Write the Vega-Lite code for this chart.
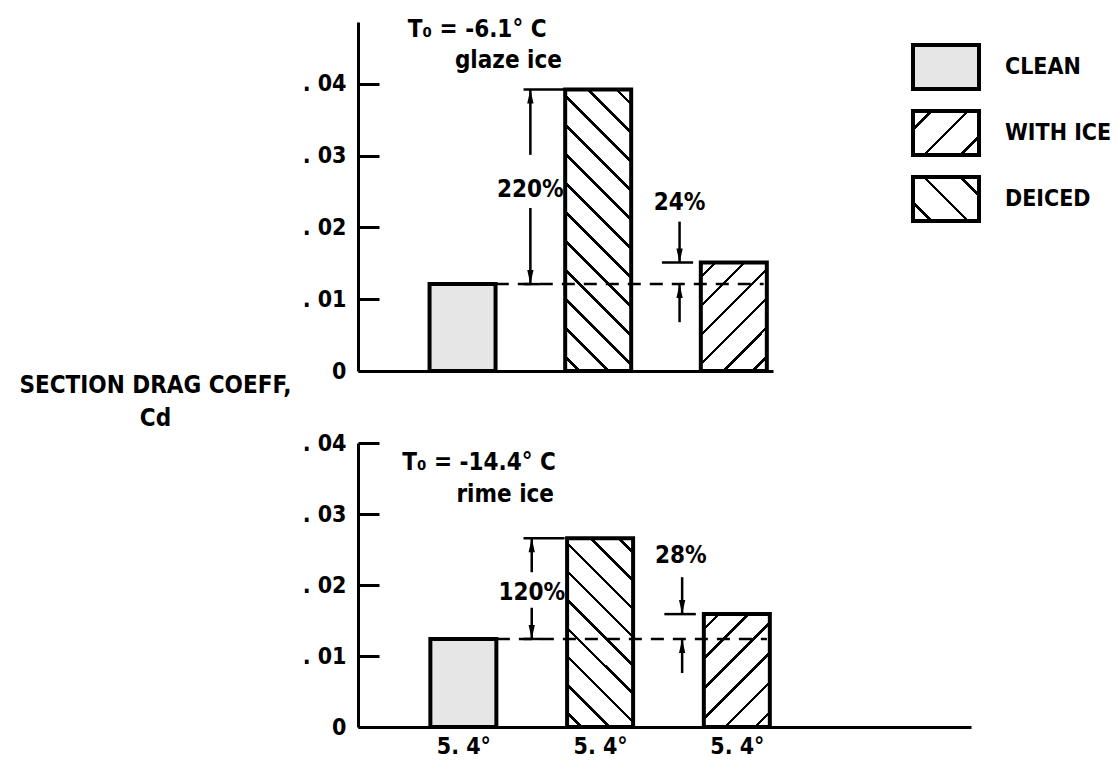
{
  "$schema": "https://vega.github.io/schema/vega-lite/v6.json",
  "padding": {"left": 18, "top": 18, "right": 5, "bottom": 2},
  "background": "white",
  "config": {
    "view": {"stroke": null},
    "font": "DejaVu Sans Condensed, DejaVu Sans, sans-serif",
    "axis": {"domainColor": "black", "domainWidth": 3, "tickColor": "black", "tickWidth": 3, "labelColor": "black", "labelFont": "DejaVu Sans Condensed, DejaVu Sans, sans-serif", "labelFontWeight": "bold", "grid": false, "titleColor": "black"},
    "text": {"font": "DejaVu Sans Condensed, DejaVu Sans, sans-serif", "fontWeight": "bold", "color": "black"}
  },
  "datasets": {
    "bars": [
      {"panel": "top", "cond": "CLEAN", "pos": 1, "cd": 0.0121},
      {"panel": "top", "cond": "WITH ICE", "pos": 2, "cd": 0.0392},
      {"panel": "top", "cond": "DEICED", "pos": 3, "cd": 0.0151},
      {"panel": "bottom", "cond": "CLEAN", "pos": 1, "cd": 0.0124},
      {"panel": "bottom", "cond": "WITH ICE", "pos": 2, "cd": 0.0266},
      {"panel": "bottom", "cond": "DEICED", "pos": 3, "cd": 0.0159}
    ],
    "dashes": [
      {"panel": "top", "pos": 1.245, "cd": 0.0121, "pos2": 3.22, "cd2": 0.0121},
      {"panel": "bottom", "pos": 1.245, "cd": 0.0124, "pos2": 3.22, "cd2": 0.0124}
    ],
    "lines": [
      {"panel": "top", "pos": 1.5, "cd": 0.0392, "pos2": 1.5, "cd2": 0.0301},
      {"panel": "top", "pos": 1.5, "cd": 0.0227, "pos2": 1.5, "cd2": 0.0121},
      {"panel": "top", "pos": 1.45, "cd": 0.0392, "pos2": 1.75, "cd2": 0.0392},
      {"panel": "top", "pos": 1.45, "cd": 0.0121, "pos2": 1.57, "cd2": 0.0121},
      {"panel": "top", "pos": 2.6, "cd": 0.0208, "pos2": 2.6, "cd2": 0.0151},
      {"panel": "top", "pos": 2.47, "cd": 0.0151, "pos2": 2.7, "cd2": 0.0151},
      {"panel": "top", "pos": 2.6, "cd": 0.0068, "pos2": 2.6, "cd2": 0.0121},
      {"panel": "bottom", "pos": 1.5, "cd": 0.0266, "pos2": 1.5, "cd2": 0.0218},
      {"panel": "bottom", "pos": 1.5, "cd": 0.0168, "pos2": 1.5, "cd2": 0.0124},
      {"panel": "bottom", "pos": 1.44, "cd": 0.0266, "pos2": 1.74, "cd2": 0.0266},
      {"panel": "bottom", "pos": 1.44, "cd": 0.0124, "pos2": 1.57, "cd2": 0.0124},
      {"panel": "bottom", "pos": 2.6, "cd": 0.0211, "pos2": 2.6, "cd2": 0.0159},
      {"panel": "bottom", "pos": 2.47, "cd": 0.0159, "pos2": 2.7, "cd2": 0.0159},
      {"panel": "bottom", "pos": 2.6, "cd": 0.0076, "pos2": 2.6, "cd2": 0.0124}
    ],
    "heads": [
      {"panel": "top", "pos": 1.5, "cd": 0.0392, "dir": "up"},
      {"panel": "top", "pos": 1.5, "cd": 0.0121, "dir": "down"},
      {"panel": "top", "pos": 2.6, "cd": 0.0151, "dir": "down"},
      {"panel": "top", "pos": 2.6, "cd": 0.0121, "dir": "up"},
      {"panel": "bottom", "pos": 1.5, "cd": 0.0266, "dir": "up"},
      {"panel": "bottom", "pos": 1.5, "cd": 0.0124, "dir": "down"},
      {"panel": "bottom", "pos": 2.6, "cd": 0.0159, "dir": "down"},
      {"panel": "bottom", "pos": 2.6, "cd": 0.0124, "dir": "up"}
    ],
    "notes": [
      {"panel": "top", "pos": 1.108, "cd": 0.0465, "text": "T₀ = -6.1° C"},
      {"panel": "top", "pos": 1.338, "cd": 0.0422, "text": "glaze ice"},
      {"panel": "top", "pos": 1.5, "cd": 0.0243, "text": "220%"},
      {"panel": "top", "pos": 2.6, "cd": 0.0224, "text": "24%"},
      {"panel": "bottom", "pos": 1.115, "cd": 0.0362, "text": "T₀ = -14.4° C"},
      {"panel": "bottom", "pos": 1.306, "cd": 0.0317, "text": "rime ice"},
      {"panel": "bottom", "pos": 1.5, "cd": 0.0179, "text": "120%"},
      {"panel": "bottom", "pos": 2.59, "cd": 0.0231, "text": "28%"}
    ]
  },
  "bounds": "flush",
  "spacing": 72,
  "resolve": {"scale": {"x": "independent", "y": "independent"}},
  "vconcat": [
    {
      "width": 415,
      "height": 349,
      "encoding": {
        "x": {"field": "pos", "type": "quantitative", "scale": {"domain": [0.266, 3.252], "nice": false, "zero": false}, "axis": {"title": null, "labels": false, "ticks": false, "domain": true}},
        "y": {"field": "cd", "type": "quantitative", "scale": {"domain": [0, 0.0486], "nice": false}, "axis": {"title": ["SECTION DRAG COEFF,", "Cd"], "values": [0, 0.01, 0.02, 0.03, 0.04], "tickSize": -21, "labelPadding": 33, "labelFontSize": 23, "labelExpr": "datum.value == 0 ? '0' : '. 0' + format(datum.value * 100, 'd')", "titleAngle": 0, "titleX": -203, "titleY": 370, "titleAlign": "center", "titleBaseline": "alphabetic", "titleFontSize": 24, "titleFontWeight": "bold", "titleLineHeight": 33, "titleFont": "DejaVu Sans Condensed, DejaVu Sans, sans-serif"}}
      },
      "layer": [
        {
          "data": {"name": "bars"},
          "transform": [{"filter": "datum.panel == 'top' && datum.cond == 'CLEAN'"}],
          "mark": {"type": "bar", "orient": "vertical", "width": 66, "fill": "#e6e6e6", "stroke": "black", "strokeWidth": 4, "strokeJoin": "miter"}
        },
        {
          "data": {"name": "bars"},
          "transform": [{"filter": "datum.panel == 'top' && datum.cond == 'WITH ICE'"}],
          "mark": {"type": "bar", "orient": "vertical", "width": 66, "stroke": "black", "strokeWidth": 4, "strokeJoin": "miter",
            "fill": {"gradient": "linear", "x1": 0, "y1": 1, "x2": 0.2744, "y2": -0.1701, "stops": [
              {"offset": 0.0365, "color": "white"}, {"offset": 0.0365, "color": "black"}, {"offset": 0.0469, "color": "black"}, {"offset": 0.0469, "color": "white"},
              {"offset": 0.1198, "color": "white"}, {"offset": 0.1198, "color": "black"}, {"offset": 0.1302, "color": "black"}, {"offset": 0.1302, "color": "white"},
              {"offset": 0.2031, "color": "white"}, {"offset": 0.2031, "color": "black"}, {"offset": 0.2135, "color": "black"}, {"offset": 0.2135, "color": "white"},
              {"offset": 0.2865, "color": "white"}, {"offset": 0.2865, "color": "black"}, {"offset": 0.2969, "color": "black"}, {"offset": 0.2969, "color": "white"},
              {"offset": 0.3698, "color": "white"}, {"offset": 0.3698, "color": "black"}, {"offset": 0.3802, "color": "black"}, {"offset": 0.3802, "color": "white"},
              {"offset": 0.4531, "color": "white"}, {"offset": 0.4531, "color": "black"}, {"offset": 0.4635, "color": "black"}, {"offset": 0.4635, "color": "white"},
              {"offset": 0.5365, "color": "white"}, {"offset": 0.5365, "color": "black"}, {"offset": 0.5469, "color": "black"}, {"offset": 0.5469, "color": "white"},
              {"offset": 0.6198, "color": "white"}, {"offset": 0.6198, "color": "black"}, {"offset": 0.6302, "color": "black"}, {"offset": 0.6302, "color": "white"},
              {"offset": 0.7031, "color": "white"}, {"offset": 0.7031, "color": "black"}, {"offset": 0.7135, "color": "black"}, {"offset": 0.7135, "color": "white"},
              {"offset": 0.7865, "color": "white"}, {"offset": 0.7865, "color": "black"}, {"offset": 0.7969, "color": "black"}, {"offset": 0.7969, "color": "white"},
              {"offset": 0.8698, "color": "white"}, {"offset": 0.8698, "color": "black"}, {"offset": 0.8802, "color": "black"}, {"offset": 0.8802, "color": "white"},
              {"offset": 0.9531, "color": "white"}, {"offset": 0.9531, "color": "black"}, {"offset": 0.9635, "color": "black"}, {"offset": 0.9635, "color": "white"}
            ]}}
        },
        {
          "data": {"name": "bars"},
          "transform": [{"filter": "datum.panel == 'top' && datum.cond == 'DEICED'"}],
          "mark": {"type": "bar", "orient": "vertical", "width": 66, "stroke": "black", "strokeWidth": 4, "strokeJoin": "miter",
            "fill": {"gradient": "linear", "x1": 0, "y1": 0, "x2": 0.7146, "y2": 1.1737, "stops": [
              {"offset": 0.073, "color": "white"}, {"offset": 0.073, "color": "black"}, {"offset": 0.0936, "color": "black"}, {"offset": 0.0936, "color": "white"},
              {"offset": 0.2397, "color": "white"}, {"offset": 0.2397, "color": "black"}, {"offset": 0.2603, "color": "black"}, {"offset": 0.2603, "color": "white"},
              {"offset": 0.4064, "color": "white"}, {"offset": 0.4064, "color": "black"}, {"offset": 0.427, "color": "black"}, {"offset": 0.427, "color": "white"},
              {"offset": 0.573, "color": "white"}, {"offset": 0.573, "color": "black"}, {"offset": 0.5936, "color": "black"}, {"offset": 0.5936, "color": "white"},
              {"offset": 0.7397, "color": "white"}, {"offset": 0.7397, "color": "black"}, {"offset": 0.7603, "color": "black"}, {"offset": 0.7603, "color": "white"},
              {"offset": 0.9064, "color": "white"}, {"offset": 0.9064, "color": "black"}, {"offset": 0.927, "color": "black"}, {"offset": 0.927, "color": "white"}
            ]}}
        },
        {
          "data": {"name": "bars"},
          "transform": [{"filter": "datum.cd < 0"}],
          "mark": {"type": "bar", "orient": "vertical", "width": 66, "stroke": "black", "strokeWidth": 4},
          "encoding": {
            "fill": {"field": "cond", "type": "nominal",
              "scale": {"domain": ["CLEAN", "WITH ICE", "DEICED"], "range": [
                "#e6e6e6",
                {"expr": "{gradient: 'linear', x1: 0, y1: 0, x2: 1.1539, y2: 0.7692, stops: [{offset: 0.1503, color: 'white'}, {offset: 0.1503, color: 'black'}, {offset: 0.1831, color: 'black'}, {offset: 0.1831, color: 'white'}, {offset: 0.4836, color: 'white'}, {offset: 0.4836, color: 'black'}, {offset: 0.5164, color: 'black'}, {offset: 0.5164, color: 'white'}, {offset: 0.8169, color: 'white'}, {offset: 0.8169, color: 'black'}, {offset: 0.8497, color: 'black'}, {offset: 0.8497, color: 'white'}]}"},
                {"expr": "{gradient: 'linear', x1: 0, y1: 1, x2: 1.1539, y2: 0.2308, stops: [{offset: 0.1503, color: 'white'}, {offset: 0.1503, color: 'black'}, {offset: 0.1831, color: 'black'}, {offset: 0.1831, color: 'white'}, {offset: 0.4836, color: 'white'}, {offset: 0.4836, color: 'black'}, {offset: 0.5164, color: 'black'}, {offset: 0.5164, color: 'white'}, {offset: 0.8169, color: 'white'}, {offset: 0.8169, color: 'black'}, {offset: 0.8497, color: 'black'}, {offset: 0.8497, color: 'white'}]}"}
              ]},
              "legend": {"title": null, "orient": "none", "legendX": 553, "legendY": 10, "padding": 0, "symbolType": "M-1,-0.667H1V0.667H-1Z", "symbolSize": 4356, "symbolStrokeColor": "black", "symbolStrokeWidth": 4, "symbolOpacity": 1, "rowPadding": -1, "labelOffset": 24, "labelFont": "DejaVu Sans Condensed, DejaVu Sans, sans-serif", "labelFontWeight": "bold", "labelFontSize": 23, "labelColor": "black", "labelLimit": 300}}
          }
        },
        {
          "data": {"name": "dashes"},
          "transform": [{"filter": "datum.panel == 'top'"}],
          "mark": {"type": "rule", "color": "black", "strokeWidth": 2.5, "strokeDash": [13, 9]},
          "encoding": {"x2": {"field": "pos2"}, "y2": {"field": "cd2"}}
        },
        {
          "data": {"name": "lines"},
          "transform": [{"filter": "datum.panel == 'top'"}],
          "mark": {"type": "rule", "color": "black", "strokeWidth": 2.5},
          "encoding": {"x2": {"field": "pos2"}, "y2": {"field": "cd2"}}
        },
        {
          "data": {"name": "heads"},
          "transform": [{"filter": "datum.panel == 'top'"}],
          "mark": {"type": "point", "filled": true, "color": "black", "opacity": 1, "size": 196, "strokeWidth": 0},
          "encoding": {"shape": {"field": "dir", "type": "nominal", "scale": {"domain": ["up", "down"], "range": ["M0,0L0.45,2L-0.45,2Z", "M0,0L0.45,-2L-0.45,-2Z"]}, "legend": null}}
        },
        {
          "data": {"name": "notes"},
          "transform": [{"filter": "datum.panel == 'top'"}],
          "mark": {"type": "text", "align": "center", "baseline": "alphabetic", "fontSize": 24, "fontWeight": "bold", "color": "black"},
          "encoding": {"text": {"field": "text"}}
        }
      ]
    },
    {
      "width": 613,
      "height": 284,
      "encoding": {
        "x": {"field": "pos", "type": "quantitative", "scale": {"domain": [0.266, 4.676], "nice": false, "zero": false}, "axis": {"title": null, "ticks": false, "domain": true, "values": [1, 2, 3], "labelExpr": "'5. 4°'", "labelPadding": 8, "labelFontSize": 23}},
        "y": {"field": "cd", "type": "quantitative", "scale": {"domain": [0, 0.04], "nice": false}, "axis": {"title": null, "values": [0, 0.01, 0.02, 0.03, 0.04], "tickSize": -21, "labelPadding": 33, "labelFontSize": 23, "labelExpr": "datum.value == 0 ? '0' : '. 0' + format(datum.value * 100, 'd')"}}
      },
      "layer": [
        {
          "data": {"name": "bars"},
          "transform": [{"filter": "datum.panel == 'bottom' && datum.cond == 'CLEAN'"}],
          "mark": {"type": "bar", "orient": "vertical", "width": 66, "fill": "#e6e6e6", "stroke": "black", "strokeWidth": 4, "strokeJoin": "miter"}
        },
        {
          "data": {"name": "bars"},
          "transform": [{"filter": "datum.panel == 'bottom' && datum.cond == 'WITH ICE'"}],
          "mark": {"type": "bar", "orient": "vertical", "width": 66, "stroke": "black", "strokeWidth": 4, "strokeJoin": "miter",
            "fill": {"gradient": "linear", "x1": 0, "y1": 1, "x2": 0.4202, "y2": -0.2026, "stops": [
              {"offset": 0.0485, "color": "white"}, {"offset": 0.0485, "color": "black"}, {"offset": 0.0626, "color": "black"}, {"offset": 0.0626, "color": "white"},
              {"offset": 0.1596, "color": "white"}, {"offset": 0.1596, "color": "black"}, {"offset": 0.1737, "color": "black"}, {"offset": 0.1737, "color": "white"},
              {"offset": 0.2707, "color": "white"}, {"offset": 0.2707, "color": "black"}, {"offset": 0.2848, "color": "black"}, {"offset": 0.2848, "color": "white"},
              {"offset": 0.3818, "color": "white"}, {"offset": 0.3818, "color": "black"}, {"offset": 0.3959, "color": "black"}, {"offset": 0.3959, "color": "white"},
              {"offset": 0.4929, "color": "white"}, {"offset": 0.4929, "color": "black"}, {"offset": 0.5071, "color": "black"}, {"offset": 0.5071, "color": "white"},
              {"offset": 0.604, "color": "white"}, {"offset": 0.604, "color": "black"}, {"offset": 0.6182, "color": "black"}, {"offset": 0.6182, "color": "white"},
              {"offset": 0.7151, "color": "white"}, {"offset": 0.7151, "color": "black"}, {"offset": 0.7293, "color": "black"}, {"offset": 0.7293, "color": "white"},
              {"offset": 0.8262, "color": "white"}, {"offset": 0.8262, "color": "black"}, {"offset": 0.8404, "color": "black"}, {"offset": 0.8404, "color": "white"},
              {"offset": 0.9373, "color": "white"}, {"offset": 0.9373, "color": "black"}, {"offset": 0.9515, "color": "black"}, {"offset": 0.9515, "color": "white"}
            ]}}
        },
        {
          "data": {"name": "bars"},
          "transform": [{"filter": "datum.panel == 'bottom' && datum.cond == 'DEICED'"}],
          "mark": {"type": "bar", "orient": "vertical", "width": 66, "stroke": "black", "strokeWidth": 4, "strokeJoin": "miter",
            "fill": {"gradient": "linear", "x1": 0, "y1": 0, "x2": 0.6904, "y2": 1.181, "stops": [
              {"offset": 0.0732, "color": "white"}, {"offset": 0.0732, "color": "black"}, {"offset": 0.0934, "color": "black"}, {"offset": 0.0934, "color": "white"},
              {"offset": 0.2399, "color": "white"}, {"offset": 0.2399, "color": "black"}, {"offset": 0.2601, "color": "black"}, {"offset": 0.2601, "color": "white"},
              {"offset": 0.4066, "color": "white"}, {"offset": 0.4066, "color": "black"}, {"offset": 0.4268, "color": "black"}, {"offset": 0.4268, "color": "white"},
              {"offset": 0.5732, "color": "white"}, {"offset": 0.5732, "color": "black"}, {"offset": 0.5934, "color": "black"}, {"offset": 0.5934, "color": "white"},
              {"offset": 0.7399, "color": "white"}, {"offset": 0.7399, "color": "black"}, {"offset": 0.7601, "color": "black"}, {"offset": 0.7601, "color": "white"},
              {"offset": 0.9066, "color": "white"}, {"offset": 0.9066, "color": "black"}, {"offset": 0.9268, "color": "black"}, {"offset": 0.9268, "color": "white"}
            ]}}
        },
        {
          "data": {"name": "dashes"},
          "transform": [{"filter": "datum.panel == 'bottom'"}],
          "mark": {"type": "rule", "color": "black", "strokeWidth": 2.5, "strokeDash": [13, 9]},
          "encoding": {"x2": {"field": "pos2"}, "y2": {"field": "cd2"}}
        },
        {
          "data": {"name": "lines"},
          "transform": [{"filter": "datum.panel == 'bottom'"}],
          "mark": {"type": "rule", "color": "black", "strokeWidth": 2.5},
          "encoding": {"x2": {"field": "pos2"}, "y2": {"field": "cd2"}}
        },
        {
          "data": {"name": "heads"},
          "transform": [{"filter": "datum.panel == 'bottom'"}],
          "mark": {"type": "point", "filled": true, "color": "black", "opacity": 1, "size": 196, "strokeWidth": 0},
          "encoding": {"shape": {"field": "dir", "type": "nominal", "scale": {"domain": ["up", "down"], "range": ["M0,0L0.45,2L-0.45,2Z", "M0,0L0.45,-2L-0.45,-2Z"]}, "legend": null}}
        },
        {
          "data": {"name": "notes"},
          "transform": [{"filter": "datum.panel == 'bottom'"}],
          "mark": {"type": "text", "align": "center", "baseline": "alphabetic", "fontSize": 24, "fontWeight": "bold", "color": "black"},
          "encoding": {"text": {"field": "text"}}
        }
      ]
    }
  ]
}
